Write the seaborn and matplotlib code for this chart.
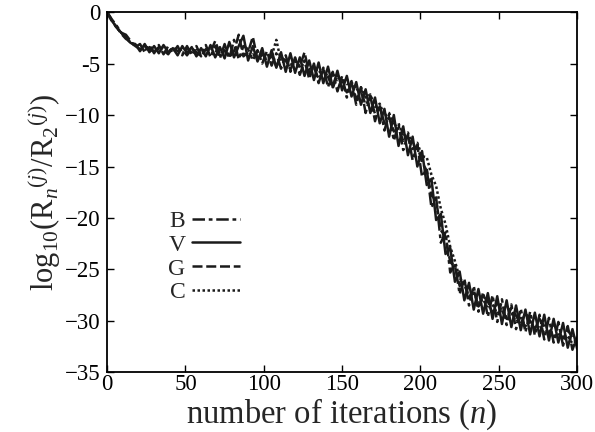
import numpy as np
import pandas as pd
import seaborn as sns
import matplotlib.pyplot as plt

# iteration numbers (read every 3 iterations)
iterations = np.arange(0, 301, 3)

# log10(R_n / R_2), one list per method
B_vals = [0, -0.7, -1.3, -2.0, -2.2, -2.8, -3.4, -3.1, -3.9, -3.2,
          -4.0, -3.2, -4.1, -3.3, -4.0, -3.3, -4.2, -3.3, -4.2, -3.3,
          -4.3, -3.2, -4.4, -3.3, -4.5, -3.1, -4.5, -2.7, -4.6, -3.3,
          -3.6, -4.7, -3.7, -5.0, -3.8, -5.2, -4.0, -5.5, -4.2, -5.8,
          -4.4, -6.1, -4.7, -6.5, -5.0, -6.9, -5.4, -7.3, -5.8, -7.7,
          -6.2, -8.3, -6.7, -9.0, -7.3, -9.8, -8.1, -10.6, -9.0, -11.5,
          -9.9, -12.5, -10.9, -13.4, -11.9, -14.4, -12.9, -16.0, -15.2, -19.0,
          -18.0, -22.4, -21.4, -25.3, -24.4, -27.4, -25.9, -28.5, -26.6, -29.1,
          -27.2, -29.6, -27.5, -30.1, -27.9, -30.4, -28.4, -30.8, -28.8, -31.1,
          -29.1, -31.4, -29.4, -31.8, -29.7, -32.1, -30.1, -32.4, -30.5, -32.8,
          -31.5]
V_vals = [0, -0.8, -1.5, -2.0, -2.4, -3.0, -3.1, -3.8, -3.1, -3.9,
          -3.3, -4.0, -3.2, -3.9, -3.5, -4.2, -3.3, -4.0, -3.4, -4.3,
          -3.5, -4.3, -3.2, -4.4, -3.4, -4.5, -2.9, -4.4, -3.3, -2.3,
          -4.7, -3.3, -4.8, -3.5, -5.3, -3.7, -5.4, -3.9, -5.8, -4.0,
          -5.9, -4.4, -6.2, -4.7, -6.6, -4.9, -6.9, -5.3, -7.3, -5.7,
          -7.6, -6.2, -8.2, -6.8, -9.0, -7.5, -9.8, -8.3, -10.8, -9.4,
          -12.1, -10.0, -13.0, -11.1, -13.9, -12.1, -15.0, -13.5, -16.8, -16.2,
          -20.2, -19.6, -23.5, -22.9, -26.2, -25.2, -28.0, -26.3, -28.9, -26.9,
          -29.3, -27.3, -29.8, -27.6, -30.3, -28.0, -30.6, -28.5, -30.9, -28.9,
          -31.3, -29.2, -31.5, -29.4, -31.9, -29.8, -32.1, -30.2, -32.6, -30.8,
          -32.7]
G_vals = [0, -0.9, -1.4, -2.1, -2.6, -2.9, -3.3, -3.6, -3.3, -3.6,
          -3.9, -3.4, -3.7, -4.1, -3.4, -3.8, -3.6, -4.2, -3.5, -3.9,
          -4.3, -3.6, -3.9, -2.8, -4.1, -3.7, -4.4, -3.8, -2.2, -4.3,
          -3.9, -2.4, -4.6, -4.0, -4.8, -4.2, -5.3, -4.4, -4.7, -5.6,
          -4.6, -5.3, -3.9, -6.0, -5.4, -6.5, -5.7, -6.3, -7.4, -6.1,
          -6.9, -7.8, -6.9, -8.4, -7.8, -9.0, -8.3, -9.9, -9.2, -10.8,
          -10.2, -11.6, -11.3, -12.5, -12.1, -13.3, -13.0, -14.6, -15.4, -17.8,
          -18.3, -21.2, -21.8, -24.3, -24.7, -26.6, -26.1, -27.8, -27.0, -28.6,
          -27.6, -28.1, -29.3, -28.2, -29.0, -29.8, -28.7, -29.5, -30.3, -29.2,
          -30.0, -30.8, -29.8, -30.5, -31.3, -30.3, -31.0, -31.7, -30.9, -31.6,
          -32.2]
C_vals = [0, -0.8, -1.5, -2.0, -2.5, -3.0, -3.2, -3.5, -3.7, -3.4,
          -3.8, -3.6, -3.4, -3.8, -3.7, -3.5, -4.0, -3.6, -3.9, -3.7,
          -4.0, -3.8, -4.1, -3.7, -4.2, -3.9, -4.1, -3.9, -4.3, -4.0,
          -4.3, -4.1, -4.5, -4.2, -4.6, -4.3, -2.7, -4.8, -4.6, -5.1,
          -4.8, -5.3, -5.0, -5.6, -5.3, -5.9, -5.6, -6.3, -6.0, -6.6,
          -6.4, -7.0, -6.8, -7.6, -7.3, -8.3, -8.0, -9.2, -8.9, -10.1,
          -9.8, -11.1, -10.8, -12.1, -11.7, -13.0, -12.7, -14.0, -14.1, -15.8,
          -16.9, -19.1, -20.6, -22.8, -24.2, -25.8, -26.5, -27.6, -27.3, -28.3,
          -27.9, -28.8, -28.4, -29.3, -28.8, -29.7, -29.2, -30.1, -29.7, -30.5,
          -30.1, -30.9, -30.4, -31.2, -30.8, -31.6, -31.2, -31.9, -31.5, -32.2,
          -32.0]

methods = ["B", "V", "G", "C"]
values = {"B": B_vals, "V": V_vals, "G": G_vals, "C": C_vals}

x_ticks = [0, 50, 100, 150, 200, 250, 300]
y_ticks = [-35, -30, -25, -20, -15, -10, -5, 0]
y_ticklabels = ["\u221235", "\u221230", "\u221225", "\u221220", "\u221215", "\u221210", "-5", "0"]

sns.set_style("ticks")
plt.rcParams["font.family"] = ["Liberation Serif", "DejaVu Serif"]
plt.rcParams["mathtext.fontset"] = "custom"
plt.rcParams["mathtext.rm"] = "Liberation Serif"
plt.rcParams["mathtext.it"] = "Liberation Serif:italic"

df = pd.concat(
    [pd.DataFrame({"n": iterations, "value": values[m], "method": m}) for m in methods],
    ignore_index=True,
)

fig = plt.figure(figsize=(5.95, 4.32), dpi=100)
ax = fig.add_axes([0.180, 0.138, 0.790, 0.834])

dash_styles = {"B": (5, 1.5, 1.5, 1.5), "V": "", "G": (4, 1.5), "C": (1, 1)}
sns.lineplot(data=df, x="n", y="value", style="method", style_order=methods,
             dashes=dash_styles, color="#1a1a1a", linewidth=1.8, ax=ax, legend=True)

ax.set_xlim(0, 300)
ax.set_ylim(-35, 0)
ax.set_xticks(x_ticks)
ax.set_xticklabels([str(t) for t in x_ticks])
ax.set_yticks(y_ticks)
ax.set_yticklabels(y_ticklabels)
ax.tick_params(direction="in", length=5, width=1, top=True, right=True,
               labelsize=16.5, colors="black")
ax.tick_params(axis="x", pad=1)
ax.tick_params(axis="y", pad=5)
for s in ax.spines.values():
    s.set_linewidth(1.3)
    s.set_color("black")

ax.set_xlabel(r"number of iterations ($\mathit{n}$)", fontsize=23.5)
ax.xaxis.set_label_coords(0.5, -0.117, transform=ax.transAxes)
ax.xaxis.label.set_va("center")
ax.set_ylabel(r"log$_{10}$(R$_{\mathit{n}}$$^{(\mathit{j})}$/R$_2$$^{(\mathit{j})}$)",
              fontsize=22, labelpad=1)

handles, labels = ax.get_legend_handles_labels()
ax.legend(handles, labels, loc="upper left", bbox_to_anchor=(0.13, 0.45),
          markerfirst=False, frameon=False, fontsize=17, handlelength=2.0,
          handletextpad=0.3, labelspacing=0.1, borderpad=0, borderaxespad=0)

fig.savefig("out.png", dpi=100)
